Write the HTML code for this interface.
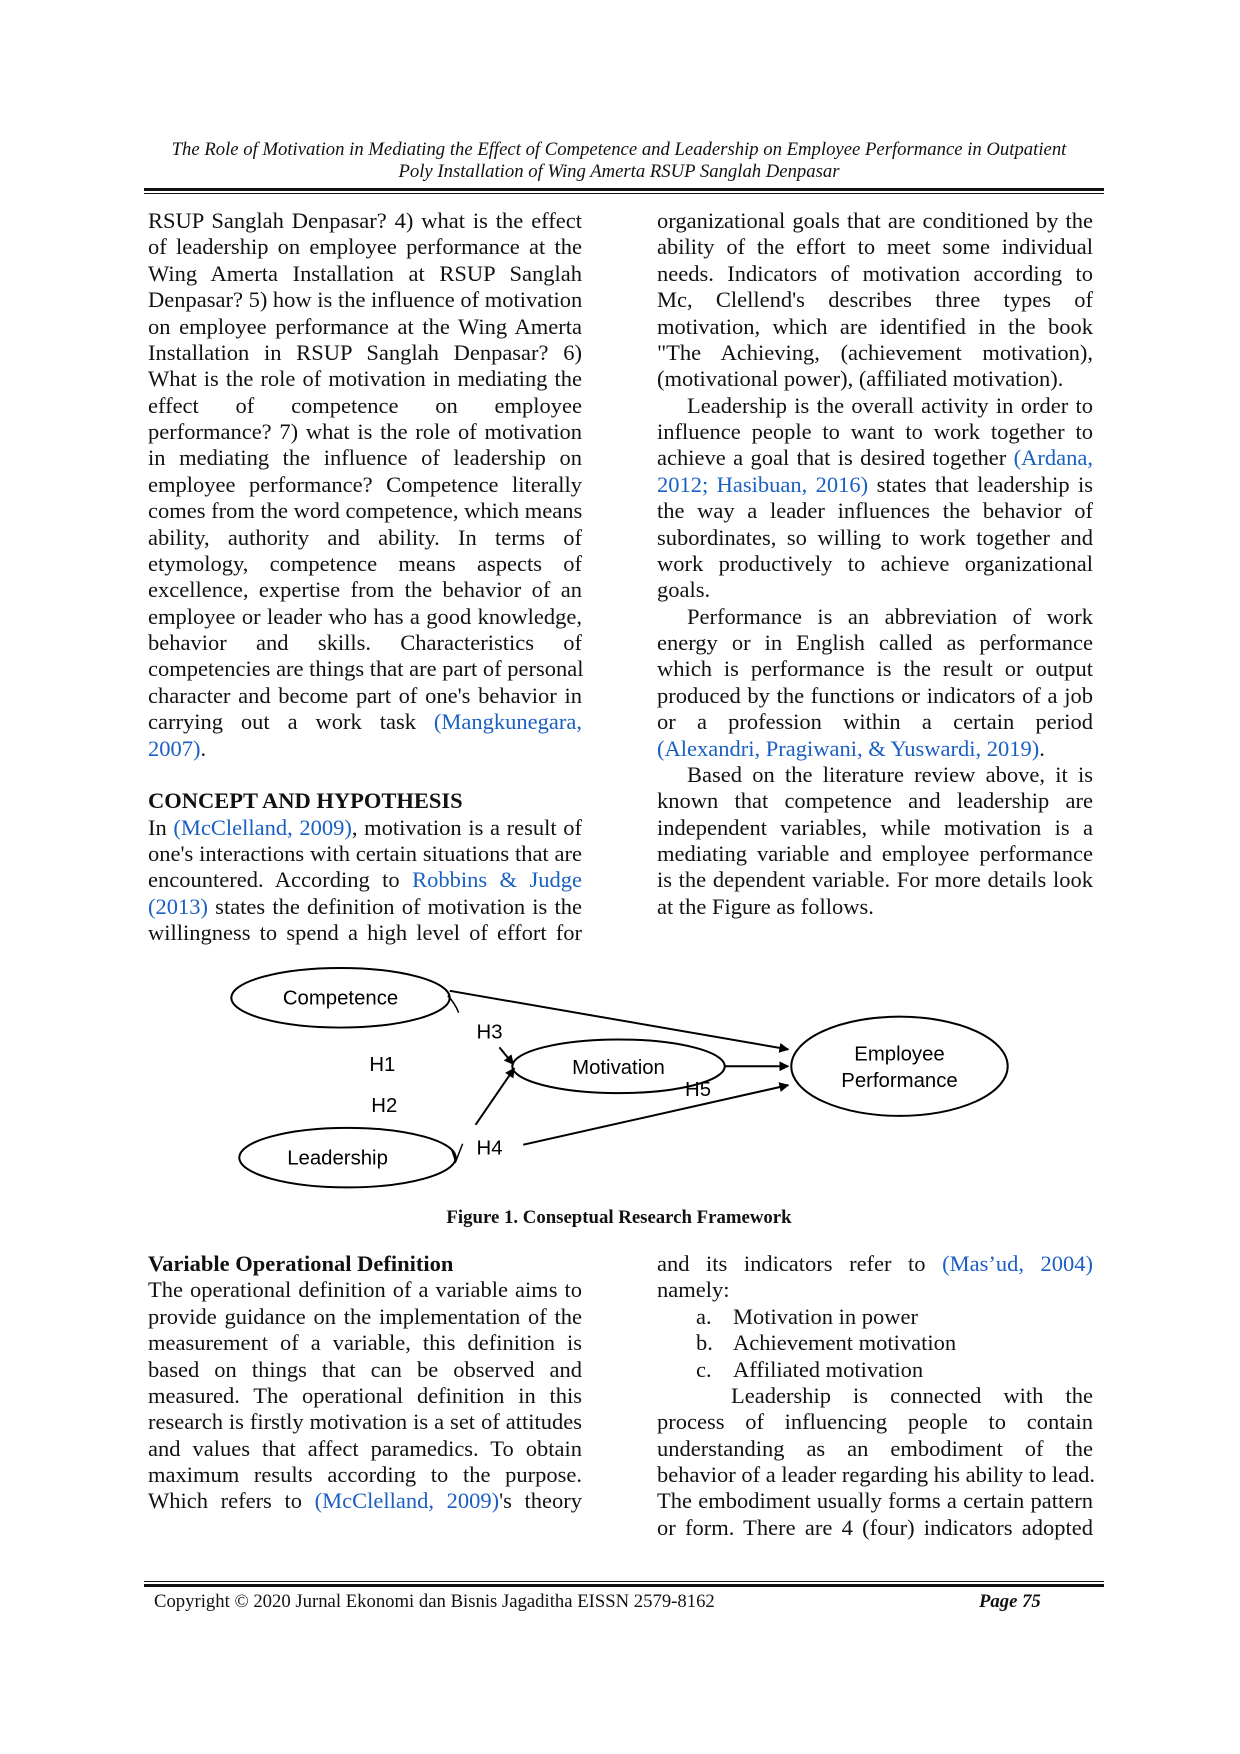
<!DOCTYPE html>
<html><head><meta charset="utf-8"><style>
body{margin:0;background:#fff;}
#p{position:relative;width:1240px;height:1754px;font-family:"Liberation Serif",serif;color:#111;overflow:hidden}
.hd{position:absolute;left:0;width:1238px;text-align:center;font-style:italic;font-size:18.7px}
.col{position:absolute;width:436px;font-size:22.5px}
.col div{height:26.38px;line-height:26.38px;text-align:justify;text-align-last:justify;white-space:nowrap;overflow:visible}
.col div.n{text-align-last:left}
.b{font-weight:bold}
.lk{color:#1a5fc4}
.ind{padding-left:74px}
.pi{padding-left:30px}
.li{padding-left:39px}
.li span{display:inline-block;width:37px}
</style></head><body><div id="p">
<div class="hd" style="top:139px">The Role of Motivation in Mediating the Effect of Competence and Leadership on Employee Performance in Outpatient</div>
<div class="hd" style="top:161px">Poly Installation of Wing Amerta RSUP Sanglah Denpasar</div>
<div style="position:absolute;left:144px;top:188px;width:960px;height:3px;background:#111"></div>
<div style="position:absolute;left:144px;top:193px;width:960px;height:1px;background:#111"></div>

<div class="col" style="left:148px;top:208px;width:434px">
<div>RSUP Sanglah Denpasar? 4) what is the effect</div>
<div>of leadership on employee performance at the</div>
<div>Wing Amerta Installation at RSUP Sanglah</div>
<div>Denpasar? 5) how is the influence of motivation</div>
<div>on employee performance at the Wing Amerta</div>
<div>Installation in RSUP Sanglah Denpasar? 6)</div>
<div>What is the role of motivation in mediating the</div>
<div>effect of competence on employee</div>
<div>performance? 7) what is the role of motivation</div>
<div>in mediating the influence of leadership on</div>
<div>employee performance? Competence literally</div>
<div>comes from the word competence, which means</div>
<div>ability, authority and ability. In terms of</div>
<div>etymology, competence means aspects of</div>
<div>excellence, expertise from the behavior of an</div>
<div>employee or leader who has a good knowledge,</div>
<div>behavior and skills. Characteristics of</div>
<div>competencies are things that are part of personal</div>
<div>character and become part of one's behavior in</div>
<div>carrying out a work task <span class="lk">(Mangkunegara,</span></div>
<div class="n"><span class="lk">2007)</span>.</div>
<div class="n">&nbsp;</div>
<div class="n b">CONCEPT AND HYPOTHESIS</div>
<div>In <span class="lk">(McClelland, 2009)</span>, motivation is a result of</div>
<div>one's interactions with certain situations that are</div>
<div>encountered. According to <span class="lk">Robbins &amp; Judge</span></div>
<div><span class="lk">(2013)</span> states the definition of motivation is the</div>
<div>willingness to spend a high level of effort for</div>
</div>

<div class="col" style="left:657px;top:208px">
<div>organizational goals that are conditioned by the</div>
<div>ability of the effort to meet some individual</div>
<div>needs. Indicators of motivation according to</div>
<div>Mc, Clellend's describes three types of</div>
<div>motivation, which are identified in the book</div>
<div>"The Achieving, (achievement motivation),</div>
<div class="n">(motivational power), (affiliated motivation).</div>
<div class="pi">Leadership is the overall activity in order to</div>
<div>influence people to want to work together to</div>
<div>achieve a goal that is desired together <span class="lk">(Ardana,</span></div>
<div><span class="lk">2012; Hasibuan, 2016)</span> states that leadership is</div>
<div>the way a leader influences the behavior of</div>
<div>subordinates, so willing to work together and</div>
<div>work productively to achieve organizational</div>
<div class="n">goals.</div>
<div class="pi">Performance is an abbreviation of work</div>
<div>energy or in English called as performance</div>
<div>which is performance is the result or output</div>
<div>produced by the functions or indicators of a job</div>
<div>or a profession within a certain period</div>
<div class="n"><span class="lk">(Alexandri, Pragiwani, &amp; Yuswardi, 2019)</span>.</div>
<div class="pi">Based on the literature review above, it is</div>
<div>known that competence and leadership are</div>
<div>independent variables, while motivation is a</div>
<div>mediating variable and employee performance</div>
<div>is the dependent variable. For more details look</div>
<div class="n">at the Figure as follows.</div>
</div>

<svg style="position:absolute;left:0;top:0" width="1240" height="1754">
<defs><marker id="ar" markerWidth="10" markerHeight="10" refX="9" refY="5" orient="auto" markerUnits="userSpaceOnUse"><path d="M0,0 L10,5 L0,10z" fill="#000"/></marker></defs>
<g transform="scale(0.99281)">
<g fill="none" stroke="#000" stroke-width="2">
<ellipse cx="343" cy="1005" rx="110" ry="30"/>
<ellipse cx="350" cy="1166" rx="109" ry="30"/>
<ellipse cx="623" cy="1074" rx="107" ry="27"/>
<ellipse cx="906" cy="1074" rx="109" ry="50"/>
<path d="M453,998 L794,1057" marker-end="url(#ar)"/>
<path d="M730,1074 L794,1074" marker-end="url(#ar)"/>
<path d="M527,1153 L794,1093" marker-end="url(#ar)"/>
<path d="M479,1133 L518,1076" marker-end="url(#ar)"/>
<path d="M503,1055 L517,1072" marker-end="url(#ar)"/>
<path d="M451,1003 Q458,1010 462,1020" stroke-width="1.5"/>
<path d="M455,1158 L459,1170 L466,1152" stroke-width="1.5"/>
</g>
<g font-family="Liberation Sans, DejaVu Sans, sans-serif" font-size="20.5" fill="#000">
<text x="343" y="1012" text-anchor="middle">Competence</text>
<text x="340" y="1173" text-anchor="middle">Leadership</text>
<text x="623" y="1082" text-anchor="middle">Motivation</text>
<text x="906" y="1068" text-anchor="middle">Employee</text>
<text x="906" y="1095" text-anchor="middle">Performance</text>
<text x="480" y="1046">H3</text>
<text x="372" y="1079">H1</text>
<text x="374" y="1120">H2</text>
<text x="480" y="1163">H4</text>
<text x="690" y="1104">H5</text>
</g>
</g>
</svg>
<div style="position:absolute;left:0;width:1238px;top:1207px;text-align:center;font-weight:bold;font-size:18.8px">Figure 1. Conseptual Research Framework</div>

<div class="col" style="left:148px;top:1251px;width:434px">
<div class="n b">Variable Operational Definition</div>
<div>The operational definition of a variable aims to</div>
<div>provide guidance on the implementation of the</div>
<div>measurement of a variable, this definition is</div>
<div>based on things that can be observed and</div>
<div>measured. The operational definition in this</div>
<div>research is firstly motivation is a set of attitudes</div>
<div>and values that affect paramedics. To obtain</div>
<div>maximum results according to the purpose.</div>
<div>Which refers to <span class="lk">(McClelland, 2009)</span>'s theory</div>
</div>
<div class="col" style="left:657px;top:1251px">
<div>and its indicators refer to <span class="lk">(Mas’ud, 2004)</span></div>
<div class="n">namely:</div>
<div class="n li"><span>a.</span>Motivation in power</div>
<div class="n li"><span>b.</span>Achievement motivation</div>
<div class="n li"><span>c.</span>Affiliated motivation</div>
<div class="ind">Leadership is connected with the</div>
<div>process of influencing people to contain</div>
<div>understanding as an embodiment of the</div>
<div>behavior of a leader regarding his ability to lead.</div>
<div>The embodiment usually forms a certain pattern</div>
<div>or form. There are 4 (four) indicators adopted</div>
</div>

<div style="position:absolute;left:144px;top:1581px;width:960px;height:1px;background:#111"></div>
<div style="position:absolute;left:144px;top:1584px;width:960px;height:3px;background:#111"></div>
<div style="position:absolute;left:154px;top:1591px;font-size:18.7px">Copyright © 2020 Jurnal Ekonomi dan Bisnis Jagaditha EISSN 2579-8162</div>
<div style="position:absolute;left:979px;top:1591px;font-size:18.7px;font-weight:bold;font-style:italic">Page 75</div>
</div></body></html>
